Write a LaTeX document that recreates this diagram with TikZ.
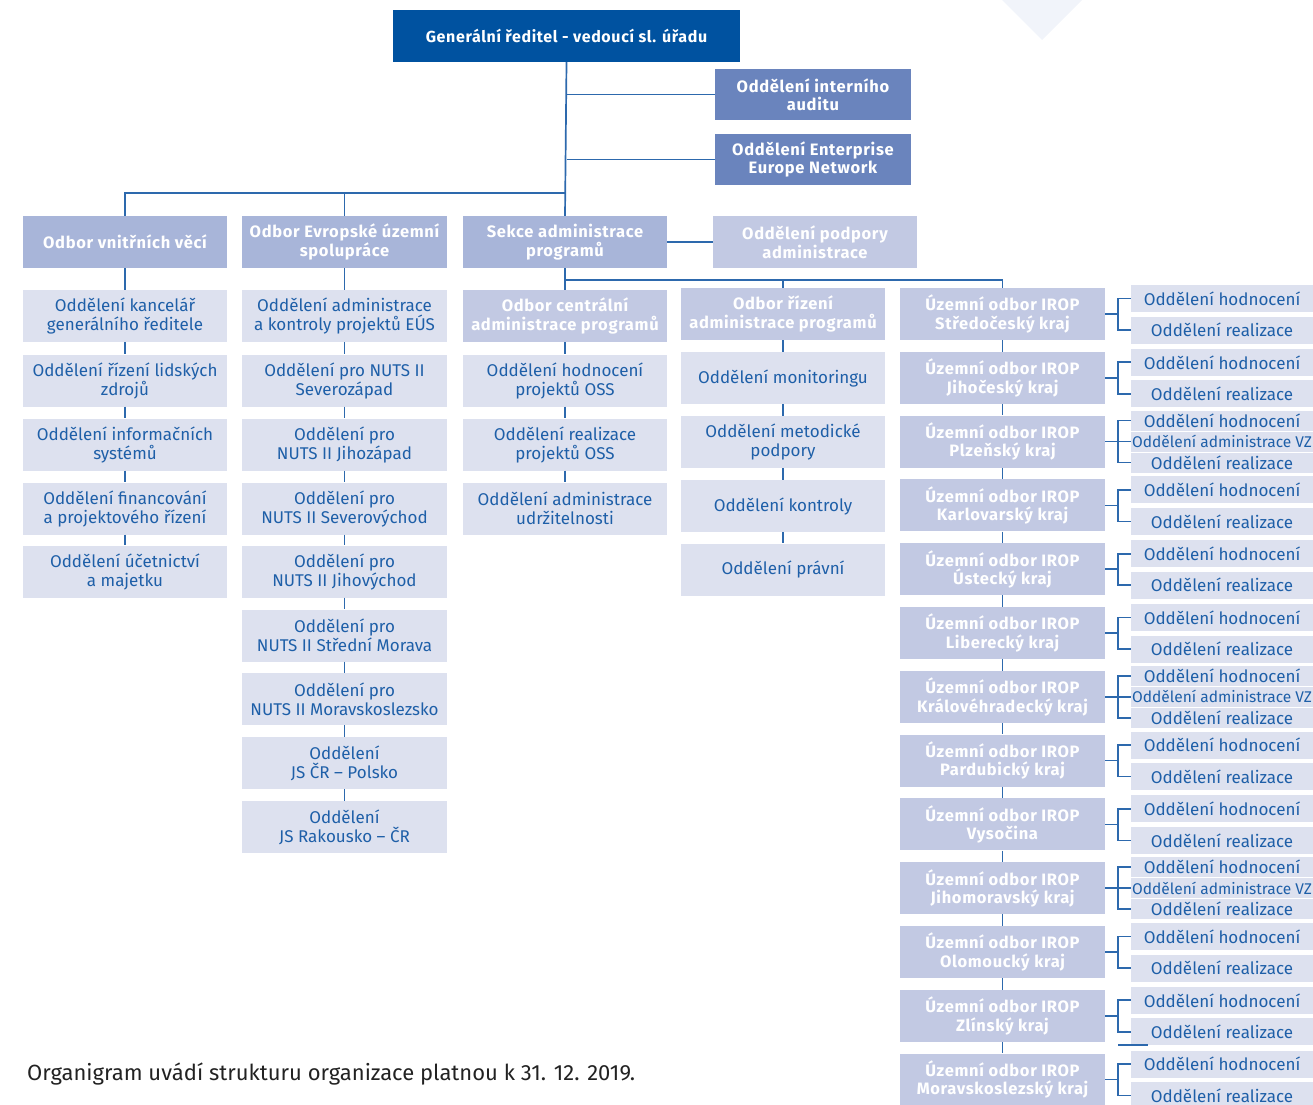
\documentclass[tikz,border=0pt]{standalone}
\usepackage{fontspec}
\setmainfont{Fira Sans}
\newfontfamily\trkfont[LetterSpace=4]{Fira Sans}
\definecolor{cdark}{HTML}{0052A0}
\definecolor{cmid}{HTML}{6A84BD}
\definecolor{clvl}{HTML}{A8B5D9}
\definecolor{clight}{HTML}{C2C9E3}
\definecolor{cpale}{HTML}{DDE1EF}
\definecolor{cline}{HTML}{2D69AD}
\definecolor{ctext}{HTML}{1E5FA8}
\definecolor{ctri}{HTML}{F1F4FA}
\definecolor{ccap}{HTML}{222222}
\tikzset{
  box/.style={rectangle, inner sep=0pt, minimum width=204pt, minimum height=52pt, align=center},
  odd/.style={box, fill=cpale, text=ctext, font=\fontsize{17}{19}\selectfont},
  bfnt/.style={font=\trkfont\bfseries\fontsize{16.5}{18.5}\selectfont},
  hdr/.style={box, fill=clight, text=white, bfnt},
  lvl/.style={box, fill=clvl, text=white, bfnt},
  midb/.style={box, fill=cmid, text=white, bfnt, minimum width=196pt, minimum height=51pt},
  topb/.style={box, fill=cdark, text=white, font=\trkfont\bfseries\fontsize{16}{18.5}\selectfont, minimum width=347pt},
  sub/.style={rectangle, inner sep=0pt, minimum width=182pt, fill=cpale, text=ctext, align=center},
  conn/.style={draw=cline, line width=1.7pt},
}
\begin{document}
\begin{tikzpicture}[x=1pt,y=-1pt]
\useasboundingbox (0,0) rectangle (1313,1104);
\fill[ctri] (1002,0) -- (1082,0) -- (1042,40) -- cycle;

% top
\node[topb] (gen) at (566.5,36) {Generální ředitel - vedoucí sl. úřadu};
\node[midb] (audit) at (813,94.5) {Oddělení interního\\auditu};
\node[midb] (een) at (813,159.5) {Oddělení Enterprise\\Europe Network};

% level 2
\node[lvl] (vnitr) at (125,242) {Odbor vnitřních věcí};
\node[lvl, minimum width=205pt] (evrop) at (344.5,242) {Odbor Evropské územní\\spolupráce};
\node[lvl] (sekce) at (565,242) {Sekce administrace\\programů};
\node[hdr] (podp) at (815,242) {Oddělení podpory\\administrace};

% column 1
\node[odd] (a1) at (125,316) {Oddělení kancelář\\generálního ředitele};
\node[odd] (a2) at (125,380.5) {Oddělení řízení lidských\\zdrojů};
\node[odd] (a3) at (125,444.5) {Oddělení informačních\\systémů};
\node[odd] (a4) at (125,508.5) {Oddělení financování\\a projektového řízení};
\node[odd] (a5) at (125,571.5) {Oddělení účetnictví\\a majetku};

% column 2
\node[odd, minimum width=205pt] (b1) at (344.5,316) {Oddělení administrace\\a kontroly projektů EÚS};
\node[odd, minimum width=205pt] (b2) at (344.5,380.5) {Oddělení pro NUTS II\\Severozápad};
\node[odd, minimum width=205pt] (b3) at (344.5,444.5) {Oddělení pro\\NUTS II Jihozápad};
\node[odd, minimum width=205pt] (b4) at (344.5,508.5) {Oddělení pro\\NUTS II Severovýchod};
\node[odd, minimum width=205pt] (b5) at (344.5,571.5) {Oddělení pro\\NUTS II Jihovýchod};
\node[odd, minimum width=205pt] (b6) at (344.5,635.5) {Oddělení pro\\NUTS II Střední Morava};
\node[odd, minimum width=205pt] (b7) at (344.5,699) {Oddělení pro\\NUTS II Moravskoslezsko};
\node[odd, minimum width=205pt] (b8) at (344.5,763) {Oddělení\\JS ČR – Polsko};
\node[odd, minimum width=205pt] (b9) at (344.5,827) {Oddělení\\JS Rakousko – ČR};

% column 3
\node[hdr] (c1) at (565,316) {Odbor centrální\\administrace programů};
\node[odd] (c2) at (565,380.5) {Oddělení hodnocení\\projektů OSS};
\node[odd] (c3) at (565,444.5) {Oddělení realizace\\projektů OSS};
\node[odd] (c4) at (565,508.5) {Oddělení administrace\\udržitelnosti};

% column 4
\node[hdr] (d1) at (783,314) {Odbor řízení\\administrace programů};
\node[odd] (d2) at (783,378) {Oddělení monitoringu};
\node[odd] (d3) at (783,442) {Oddělení metodické\\podpory};
\node[odd] (d4) at (783,506) {Oddělení kontroly};
\node[odd] (d5) at (783,569.5) {Oddělení právní};

% connectors top
\coordinate (j1) at (565,193);
\coordinate (j2) at (565,280);
\draw[conn] (gen.south) -- (sekce.north);
\draw[conn] (gen.south |- audit.west) -- (audit.west);
\draw[conn] (gen.south |- een.west) -- (een.west);
\draw[conn] (vnitr.north) |- (j1);
\draw[conn] (evrop.north) -- (evrop.north |- j1);
\draw[conn] (sekce.east) -- (podp.west);
\draw[conn] (sekce.south) -- (c1.north);
\draw[conn] (j2) -| (d1.north);

% column connectors
\draw[conn] (vnitr.south) -- (a1.north);
\foreach \p/\q in {a1/a2,a2/a3,a3/a4,a4/a5,evrop/b1,b1/b2,b2/b3,b3/b4,b4/b5,b5/b6,b6/b7,b7/b8,b8/b9,c1/c2,c2/c3,c3/c4,d1/d2,d2/d3,d3/d4,d4/d5}
  \draw[conn] (\p.south) -- (\q.north);

% regional column
\foreach \i/\reg/\three in {1/Středočeský kraj/0,2/Jihočeský kraj/0,3/Plzeňský kraj/1,4/Karlovarský kraj/0,5/Ústecký kraj/0,6/Liberecký kraj/0,7/Královéhradecký kraj/1,8/Pardubický kraj/0,9/Vysočina/0,10/Jihomoravský kraj/1,11/Olomoucký kraj/0,12/Zlínský kraj/0,13/Moravskoslezský kraj/0}{
  \pgfmathsetmacro\cy{314+63.8*(\i-1)}
  \node[hdr, minimum width=205pt] (u\i) at (1002.5,\cy) {Územní odbor IROP\\\reg};
  \coordinate (k\i) at (1118,\cy);
  \ifnum\three=1
    \node[sub, minimum height=20pt, font=\fontsize{17}{19}\selectfont] (h\i) at (1222,\cy-21) {Oddělení hodnocení};
    \node[sub, minimum height=20pt, font=\fontsize{15.5}{17}\selectfont] (v\i) at (1222,\cy) {Oddělení administrace VZ};
    \node[sub, minimum height=20pt, font=\fontsize{17}{19}\selectfont] (r\i) at (1222,\cy+21) {Oddělení realizace};
    \draw[conn] (u\i.east) -- (v\i.west);
  \else
    \node[sub, minimum height=27pt, font=\fontsize{17}{19}\selectfont] (h\i) at (1222,\cy-15.5) {Oddělení hodnocení};
    \node[sub, minimum height=27pt, font=\fontsize{17}{19}\selectfont] (r\i) at (1222,\cy+16) {Oddělení realizace};
    \draw[conn] (u\i.east) -- (k\i);
  \fi
  \draw[conn] (h\i.west) -| (k\i);
  \draw[conn] (r\i.west) -| (k\i);
}
\draw[conn] (sekce.south |- j2) -| (u1.north);
\foreach \p/\q in {1/2,2/3,3/4,4/5,5/6,6/7,7/8,8/9,9/10,10/11,11/12,12/13}
  \draw[conn] (u\p.south) -- (u\q.north);
\coordinate (s1) at (1118,1045);
\coordinate (s2) at (1148,1045);
\draw[conn] (s1) -- (s2);

\node[anchor=west, text=ccap, font=\fontsize{22}{26}\selectfont, inner sep=0pt] (cap) at (27,1074) {Organigram uvádí strukturu organizace platnou k 31. 12. 2019.};
\end{tikzpicture}
\end{document}
